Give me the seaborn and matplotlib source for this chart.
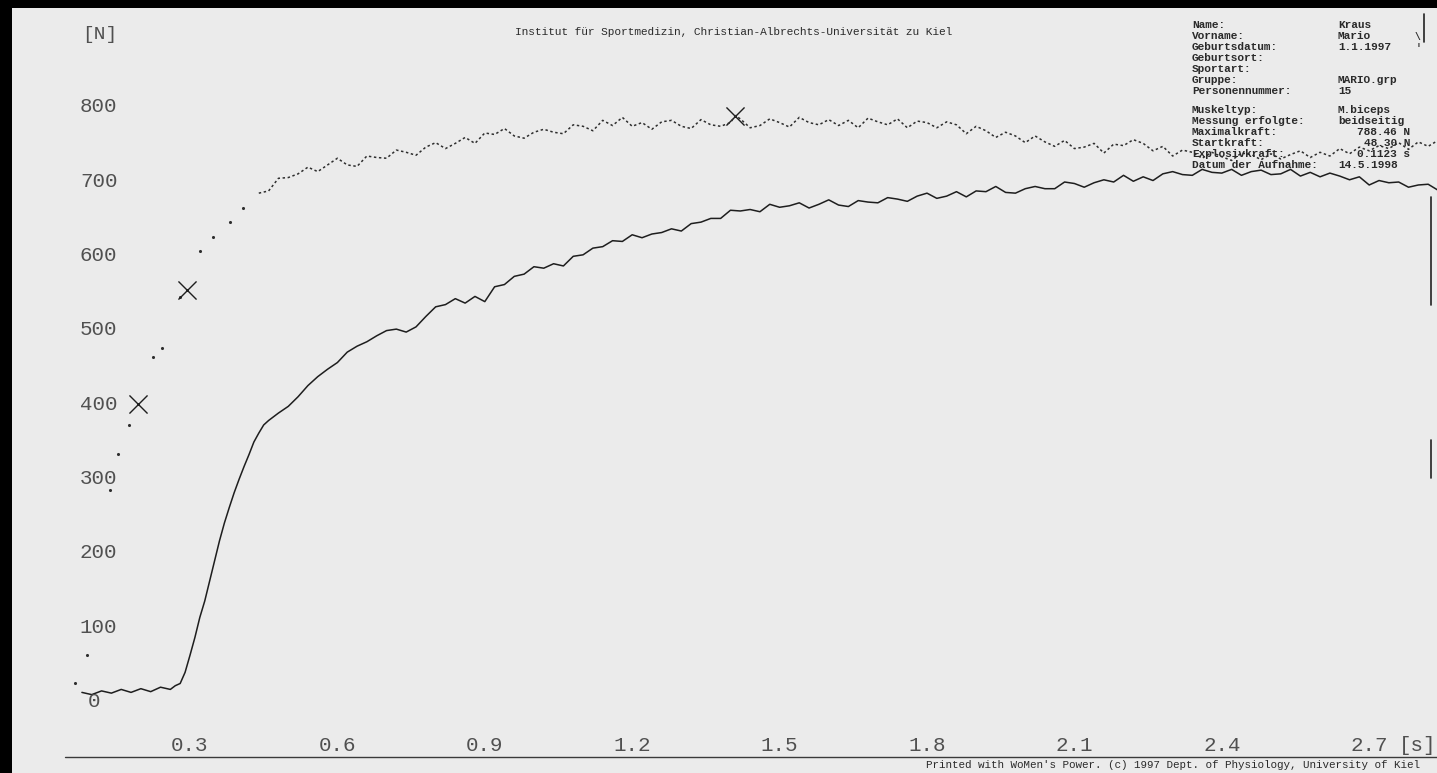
import matplotlib
matplotlib.use("Agg")
import matplotlib.pyplot as plt
import seaborn as sns
from matplotlib.patches import Rectangle
from matplotlib.lines import Line2D

sns.set_theme(style="white")
plt.rcParams["font.family"] = ["Liberation Mono", "DejaVu Sans Mono"]

# ---- force trace (solid): time [s], force [N] ----
solid_t = [0.08, 0.10, 0.12, 0.14, 0.16, 0.18, 0.20, 0.22, 0.24, 0.26, 0.27,
           0.28, 0.29, 0.30, 0.31, 0.32, 0.33, 0.34, 0.35, 0.36, 0.37, 0.38, 0.39,
           0.40, 0.41, 0.42, 0.43, 0.44, 0.45, 0.46,
           0.48, 0.50, 0.52, 0.54, 0.56, 0.58, 0.60, 0.62, 0.64, 0.66, 0.68, 0.70,
           0.72, 0.74, 0.76, 0.78, 0.80, 0.82, 0.84, 0.86, 0.88, 0.90, 0.92, 0.94,
           0.96, 0.98, 1.00, 1.02, 1.04, 1.06, 1.08, 1.10, 1.12, 1.14, 1.16, 1.18,
           1.20, 1.22, 1.24, 1.26, 1.28, 1.30, 1.32, 1.34, 1.36, 1.38, 1.40, 1.42,
           1.44, 1.46, 1.48, 1.50, 1.52, 1.54, 1.56, 1.58, 1.60, 1.62, 1.64, 1.66,
           1.68, 1.70, 1.72, 1.74, 1.76, 1.78, 1.80, 1.82, 1.84, 1.86, 1.88, 1.90,
           1.92, 1.94, 1.96, 1.98, 2.00, 2.02, 2.04, 2.06, 2.08, 2.10, 2.12, 2.14,
           2.16, 2.18, 2.20, 2.22, 2.24, 2.26, 2.28, 2.30, 2.32, 2.34, 2.36, 2.38,
           2.40, 2.42, 2.44, 2.46, 2.48, 2.50, 2.52, 2.54, 2.56, 2.58, 2.60, 2.62,
           2.64, 2.66, 2.68, 2.70, 2.72, 2.74, 2.76, 2.78, 2.80, 2.82, 2.84]
solid_n = [12, 9, 14, 11, 16, 12, 17, 13, 19, 16, 21,
           24, 39, 62, 86, 113, 135, 162, 189, 216, 240, 261, 281,
           299, 316, 332, 349, 361, 372, 378,
           388, 397, 410, 425, 437, 447, 456, 470, 478, 484, 492, 499,
           501, 497, 504, 518, 531, 534, 542, 536, 545, 538, 558, 561,
           572, 575, 585, 583, 589, 586, 599, 601, 610, 612, 620, 619,
           628, 624, 629, 631, 636, 633, 643, 645, 650, 650, 661, 660,
           662, 659, 669, 665, 667, 671, 664, 669, 675, 668, 666, 674,
           672, 671, 678, 676, 673, 680, 684, 677, 680, 686, 679, 687,
           686, 693, 685, 684, 690, 693, 690, 690, 699, 697, 692, 698,
           702, 699, 708, 700, 706, 701, 710, 713, 709, 708, 716, 712,
           711, 716, 708, 713, 715, 709, 710, 716, 707, 712, 706, 711,
           707, 702, 706, 695, 701, 698, 699, 692, 695, 696, 688]

# ---- rate trace (dotted): sparse samples during the rise ----
rise_t = [0.066, 0.090, 0.137, 0.154, 0.175, 0.225, 0.243, 0.280, 0.320, 0.347, 0.381, 0.408]
rise_n = [25, 62, 284, 333, 372, 463, 475, 544, 606, 625, 645, 664]

# ---- rate trace (dotted): plateau ----
upper_t = [0.44, 0.46, 0.48, 0.50, 0.52, 0.54, 0.56, 0.58, 0.60, 0.62, 0.64, 0.66,
           0.68, 0.70, 0.72, 0.74, 0.76, 0.78, 0.80, 0.82, 0.84, 0.86, 0.88, 0.90,
           0.92, 0.94, 0.96, 0.98, 1.00, 1.02, 1.04, 1.06, 1.08, 1.10, 1.12, 1.14,
           1.16, 1.18, 1.20, 1.22, 1.24, 1.26, 1.28, 1.30, 1.32, 1.34, 1.36, 1.38,
           1.40, 1.41, 1.42, 1.44, 1.46, 1.48, 1.50, 1.52, 1.54, 1.56, 1.58, 1.60,
           1.62, 1.64, 1.66, 1.68, 1.70, 1.72, 1.74, 1.76, 1.78, 1.80, 1.82, 1.84,
           1.86, 1.88, 1.90, 1.92, 1.94, 1.96, 1.98, 2.00, 2.02, 2.04, 2.06, 2.08,
           2.10, 2.12, 2.14, 2.16, 2.18, 2.20, 2.22, 2.24, 2.26, 2.28, 2.30, 2.32,
           2.34, 2.36, 2.38, 2.40, 2.42, 2.44, 2.46, 2.48, 2.50, 2.52, 2.54, 2.56,
           2.58, 2.60, 2.62, 2.64, 2.66, 2.68, 2.70, 2.72, 2.74, 2.76, 2.78, 2.80,
           2.82, 2.84]
upper_n = [684, 687, 704, 705, 710, 719, 713, 722, 731, 722, 720, 734,
           732, 731, 742, 739, 735, 746, 752, 744, 751, 759, 751, 765,
           763, 771, 761, 758, 766, 770, 766, 764, 776, 774, 768, 782,
           775, 786, 774, 779, 770, 780, 782, 774, 771, 783, 776, 774,
           779, 788.46, 784, 772, 775, 784, 779, 773, 786, 779, 776, 783,
           775, 782, 772, 785, 780, 776, 784, 772, 781, 779, 772, 780,
           776, 764, 774, 768, 759, 766, 761, 752, 761, 753, 747, 755,
           744, 746, 751, 738, 750, 748, 756, 751, 741, 747, 734, 742,
           739, 731, 739, 733, 728, 738, 736, 729, 737, 730, 736, 741,
           732, 739, 734, 744, 737, 746, 741, 748, 744, 752, 743, 753,
           747, 755]

# ---- cursor marks ----
mark_t = [0.195, 0.294, 1.41]
mark_n = [400, 553, 788.46]

# ---- axis labels ----
y_ticks = [800, 700, 600, 500, 400, 300, 200, 100, 0]
y_labels = ["800", "700", "600", "500", "400", "300", "200", "100", "0"]
x_ticks = [0.3, 0.6, 0.9, 1.2, 1.5, 1.8, 2.1, 2.4, 2.7]
x_labels = ["0.3", "0.6", "0.9", "1.2", "1.5", "1.8", "2.1", "2.4", "2.7"]

# ---- header block ----
title = "Institut für Sportmedizin, Christian-Albrechts-Universität zu Kiel"
info_keys = ["Name:", "Vorname:", "Geburtsdatum:", "Geburtsort:", "Sportart:",
             "Gruppe:", "Personennummer:"]
info_vals = ["Kraus", "Mario", "1.1.1997", "", "", "MARIO.grp", "15"]
meas_keys = ["Muskeltyp:", "Messung erfolgte:", "Maximalkraft:", "Startkraft:",
             "Explosivkraft:", "Datum der Aufnahme:"]
meas_vals = ["M.biceps", "beidseitig", "788.46 N", "48.30 N", "0.1123 s", "14.5.1998"]
footer = "Printed with WoMen's Power. (c) 1997 Dept. of Physiology, University of Kiel"

PAPER = "#ebebeb"
INK = "#1e1e1e"
GREY = "#505050"
W, H = 1437, 773

fig = plt.figure(figsize=(W / 100, H / 100), dpi=100)
fig.patch.set_facecolor(PAPER)
ax = fig.add_axes([0, 0, 1, 1])
ax.set_facecolor(PAPER)
ax.set_xlim(-0.0867, 2.838)
ax.set_ylim(-96.5, 944.0)
ax.axis("off")

sns.lineplot(x=solid_t, y=solid_n, ax=ax, color=INK, lw=1.1,
             estimator=None, sort=False)
sns.lineplot(x=upper_t, y=upper_n, ax=ax, color="#2e2e2e", lw=1.1,
             estimator=None, sort=False, linestyle=(0, (1.6, 1.7)))
sns.scatterplot(x=rise_t, y=rise_n, ax=ax, color="#2e2e2e", s=5, linewidth=0)
sns.scatterplot(x=mark_t, y=mark_n, ax=ax, color=INK, marker="x", s=170,
                linewidth=1.0)

# axis annotation
for v, lab in zip(y_ticks, y_labels):
    xpos = 0.076 if lab != "0" else 0.092
    ax.text(xpos, v, lab, ha="left", va="center", fontsize=15, color=GREY)
for v, lab in zip(x_ticks, x_labels):
    ax.text(v, -59, lab, ha="center", va="center", fontsize=15, color=GREY)
ax.text(0.08, 897, "[N]", ha="left", va="center", fontsize=14, color=GREY)
ax.text(2.836, -59, "[s]", ha="right", va="center", fontsize=15, color=GREY)
ax.axhline(-75, xmin=65 / W, xmax=1.0, color="#3a3a3a", lw=1.0)

# header texts (figure pixels)
def ftext(x, y, s, size=8, weight="bold", **kw):
    fig.text(x / W, 1 - y / H, s, va="center", fontsize=size, color="#2a2a2a",
             fontweight=weight, **kw)

ftext(515, 32, title, weight="normal")
for i, (k, v) in enumerate(zip(info_keys, info_vals)):
    y = 25 + i * 11
    ftext(1192, y, k)
    ftext(1338, y, v)
for i, (k, v) in enumerate(zip(meas_keys, meas_vals)):
    y = 110 + i * 11
    ftext(1192, y, k)
    if i in (2, 3, 4):
        ftext(1410, y, v, ha="right")
    else:
        ftext(1338, y, v)
ftext(1415, 37, "\\", size=7)
ftext(1416, 48, "'", size=7)
ftext(926, 765, footer, size=7.8, weight="normal")

# scanner frame
fig.add_artist(Rectangle((0, 1 - 8 / H), 1, 8 / H, transform=fig.transFigure,
                         facecolor="black", edgecolor="none"))
fig.add_artist(Rectangle((0, 0), 12 / W, 1, transform=fig.transFigure,
                         facecolor="black", edgecolor="none"))
for (x0, y0, y1) in [(1431, 197, 305), (1431, 440, 478), (1424, 14, 42)]:
    fig.add_artist(Line2D([x0 / W, x0 / W], [1 - y0 / H, 1 - y1 / H],
                          transform=fig.transFigure, color="#222222", lw=1.2))

fig.savefig("out.png", dpi=100, facecolor=PAPER)
